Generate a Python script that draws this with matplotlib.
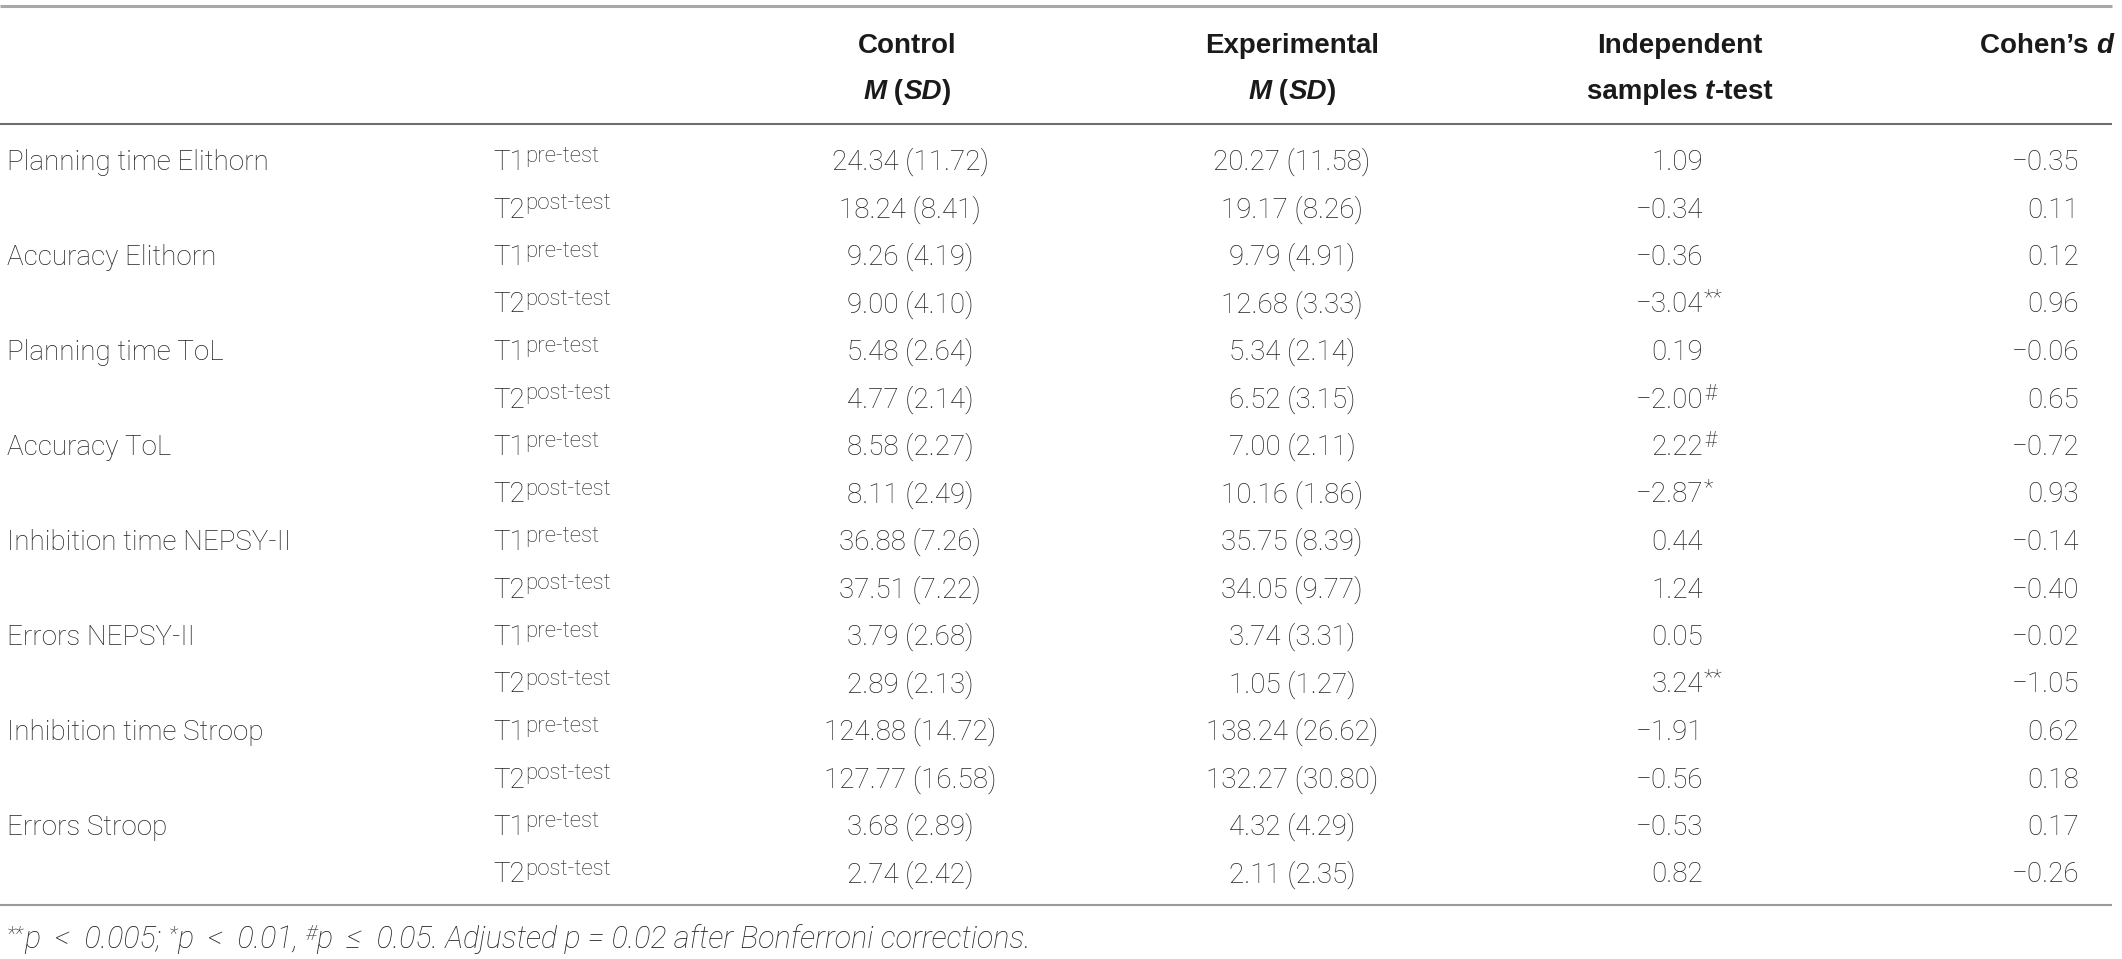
import matplotlib
matplotlib.use("Agg")
import matplotlib.pyplot as plt
from matplotlib import font_manager as fm

# ---------------- data ----------------
measures = ["Planning time Elithorn", "Accuracy Elithorn", "Planning time ToL", "Accuracy ToL",
            "Inhibition time NEPSY-II", "Errors NEPSY-II", "Inhibition time Stroop", "Errors Stroop"]
times = ["T1", "T2"]
time_sup = ["pre-test", "post-test"]

ctrl_mean = [24.34, 18.24, 9.26, 9.00, 5.48, 4.77, 8.58, 8.11,
             36.88, 37.51, 3.79, 2.89, 124.88, 127.77, 3.68, 2.74]
ctrl_sd = [11.72, 8.41, 4.19, 4.10, 2.64, 2.14, 2.27, 2.49,
           7.26, 7.22, 2.68, 2.13, 14.72, 16.58, 2.89, 2.42]
exp_mean = [20.27, 19.17, 9.79, 12.68, 5.34, 6.52, 7.00, 10.16,
            35.75, 34.05, 3.74, 1.05, 138.24, 132.27, 4.32, 2.11]
exp_sd = [11.58, 8.26, 4.91, 3.33, 2.14, 3.15, 2.11, 1.86,
          8.39, 9.77, 3.31, 1.27, 26.62, 30.80, 4.29, 2.35]
t_vals = [1.09, -0.34, -0.36, -3.04, 0.19, -2.00, 2.22, -2.87,
          0.44, 1.24, 0.05, 3.24, -1.91, -0.56, -0.53, 0.82]
t_sig = ["", "", "", "**", "", "#", "#", "*",
         "", "", "", "**", "", "", "", ""]
cohen_d = [-0.35, 0.11, 0.12, 0.96, -0.06, 0.65, -0.72, 0.93,
           -0.14, -0.40, -0.02, -1.05, 0.62, 0.18, 0.17, -0.26]

# ---------------- fonts ----------------
def has_font(name, weight=None):
    for f in fm.fontManager.ttflist:
        if f.name == name and (weight is None or f.weight in weight):
            return True
    return False

body_family = "Liberation Sans"
body_weight = "normal"
for fam in ["Roboto", "Inter", "Open Sans", "Lato"]:
    if has_font(fam, (300, "light")):
        body_family, body_weight = fam, "light"
        break
head_family = "Liberation Sans"

TXT = "#222222"
HEAD = "#1a1a1a"

W, H = 2122, 959
fig = plt.figure(figsize=(W / 100, H / 100), dpi=100)
ax = fig.add_axes([0, 0, 1, 1])
ax.set_xlim(0, W)
ax.set_ylim(H, 0)
ax.axis("off")
renderer = fig.canvas.get_renderer()

BODY = dict(family=[body_family, "DejaVu Sans"], weight=body_weight, color=TXT, fontsize=20)
SUP = dict(family=[body_family, "DejaVu Sans"], weight=body_weight, color=TXT, fontsize=16)
HB = dict(family=[head_family, "DejaVu Sans"], weight="bold", color=HEAD, fontsize=20)
HBI = dict(family=[head_family, "DejaVu Sans"], weight="bold", style="italic", color=HEAD, fontsize=20)


def runs(x, y, parts, ha="left"):
    objs, widths = [], []
    for s, kw, dy in parts:
        t = ax.text(0, 0, s, va="baseline", ha="left", **kw)
        widths.append(t.get_window_extent(renderer=renderer).width)
        objs.append((t, dy))
    total = sum(widths)
    cur = x if ha == "left" else (x - total / 2 if ha == "center" else x - total)
    for (t, dy), w in zip(objs, widths):
        t.set_position((cur, y - dy))
        cur += w


def fmt(v):
    s = f"{abs(v):.2f}"
    return ("\u2212" + s) if v < 0 else s


# ---------------- rules ----------------
X0, X1 = 0, 2112
ax.plot([X0, X1], [6, 6], color="#a8a8a8", lw=2.2, solid_capstyle="butt")
ax.plot([X0, X1], [124, 124], color="#6e6e6e", lw=1.5, solid_capstyle="butt")
ax.plot([X0, X1], [905, 905], color="#9a9a9a", lw=1.5, solid_capstyle="butt")

# ---------------- header ----------------
XC, XE, XT, XD = 907, 1292, 1680, 2113
YH1, YH2 = 53, 99
runs(XC, YH1, [("Control", HB, 0)], ha="center")
runs(XC, YH2, [("M", HBI, 0), (" (", HB, 0), ("SD", HBI, 0), (")", HB, 0)], ha="center")
runs(XE, YH1, [("Experimental", HB, 0)], ha="center")
runs(XE, YH2, [("M", HBI, 0), (" (", HB, 0), ("SD", HBI, 0), (")", HB, 0)], ha="center")
runs(XT, YH1, [("Independent", HB, 0)], ha="center")
runs(XT, YH2, [("samples ", HB, 0), ("t", HBI, 0), ("-test", HB, 0)], ha="center")
runs(XD, YH1, [("Cohen\u2019s ", HB, 0), ("d", HBI, 0)], ha="right")

# ---------------- body ----------------
Y0, DY = 170, 47.5
XM, XTIME = 7, 493
XTV, XDV = 1703, 2079
for i in range(16):
    yb = Y0 + i * DY
    if i % 2 == 0:
        runs(XM, yb, [(measures[i // 2], BODY, 0)])
    k = i % 2
    runs(XTIME, yb, [(times[k], BODY, 0), (time_sup[k], SUP, 8)])
    runs(XC + 3, yb, [(f"{ctrl_mean[i]:.2f} ({ctrl_sd[i]:.2f})", BODY, 0)], ha="center")
    runs(XE, yb, [(f"{exp_mean[i]:.2f} ({exp_sd[i]:.2f})", BODY, 0)], ha="center")
    runs(XTV, yb, [(fmt(t_vals[i]), BODY, 0)], ha="right")
    if t_sig[i]:
        runs(XTV + 1, yb, [(t_sig[i], SUP, 8)])
    runs(XDV, yb, [(fmt(cohen_d[i]), BODY, 0)], ha="right")

# ---------------- footnote ----------------
FI = dict(family=[body_family, "DejaVu Sans"], weight=body_weight, style="italic", color=TXT, fontsize=22)
FS = dict(family=[body_family, "DejaVu Sans"], weight=body_weight, style="italic", color=TXT, fontsize=15)
runs(7, 948, [("**", FS, 8), ("p  <  0.005; ", FI, 0), ("*", FS, 8), ("p  <  0.01, ", FI, 0),
              ("#", FS, 8), ("p  \u2264  0.05. Adjusted p = 0.02 after Bonferroni corrections.", FI, 0)])

fig.savefig("out.png", dpi=100)
